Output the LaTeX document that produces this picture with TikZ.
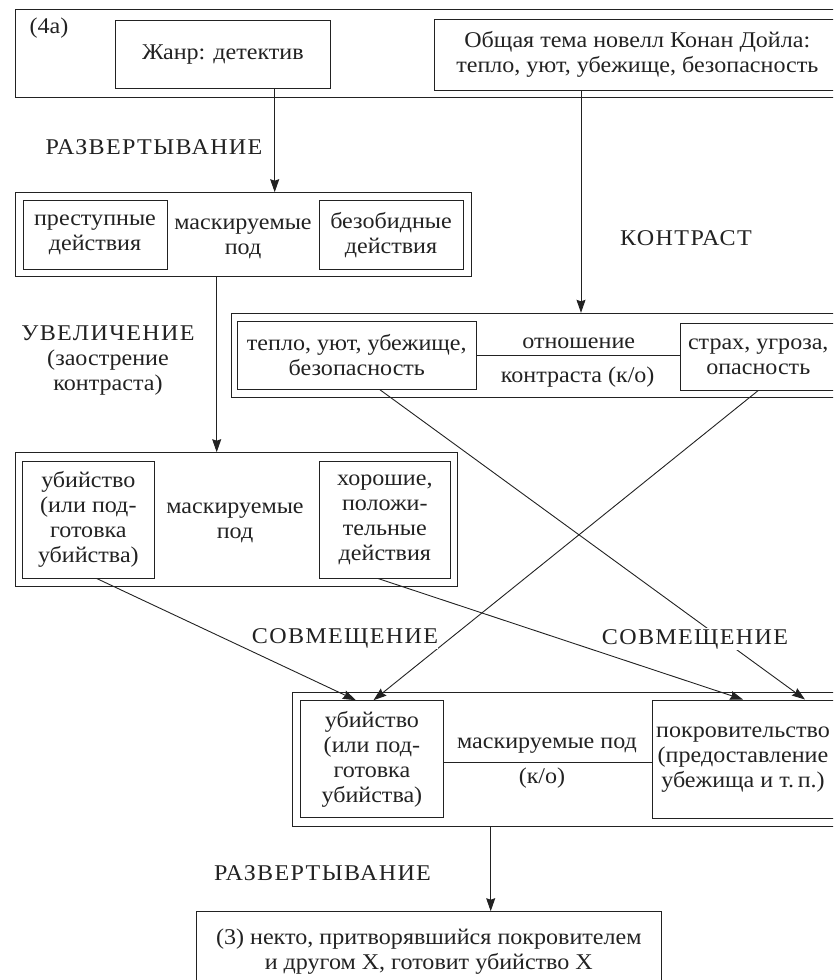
\documentclass[tikz,border=0pt]{standalone}
\usepackage{fontspec}
\setmainfont[FakeStretch=1.07]{Liberation Serif}
\newfontfamily\capsfont[FakeStretch=1.07,LetterSpace=6]{Liberation Serif}
\usetikzlibrary{arrows.meta}
\definecolor{ink}{HTML}{222222}
\begin{document}
\begin{tikzpicture}[x=1pt,y=-1pt,
  every node/.style={font=\fontsize{22.5}{25}\selectfont, text=ink},
  frame/.style={draw=ink, line width=1pt, inner sep=0pt},
  box/.style={draw=ink, line width=1pt, inner sep=0pt, align=center},
  lbl/.style={inner sep=0pt, align=center},
  caps/.style={inner sep=0pt, align=center, font=\fontsize{22.5}{25}\capsfont},
  arr/.style={draw=ink, line width=0.9pt, -{Stealth[length=13pt,width=9pt,inset=1.5pt]}},
  link/.style={draw=ink, line width=0.9pt}]
\useasboundingbox (0,0) rectangle (833,980);
\clip (0,0) rectangle (833,980);

% top row: genre and theme
\node[frame, minimum width=835pt, minimum height=88.4pt] (topframe) at (432.5,53.5) {};
\node[lbl] (tag) at (49,28) {(4а)};
\node[box, minimum width=215.2pt, minimum height=68.3pt] (genre) at (222.9,54.15) {\raisebox{-3pt}{Жанр: детектив}};
\node[box, minimum width=405.4pt, minimum height=71pt] (theme) at (637.3,54.5)
  {\raisebox{-3pt}{\begin{tabular}{@{}c@{}}Общая тема новелл Конан Дойла:\\тепло, уют, убежище, безопасность\end{tabular}}};

\node[caps] (unfoldA) at (154,146.7) {РАЗВЕРТЫВАНИЕ};

% second row
\node[frame, minimum width=456pt, minimum height=84pt] (row2) at (243,234.7) {};
\node[box, minimum width=144pt, minimum height=68.3pt] (crime) at (95,234.85) {преступные\\действия};
\node[lbl] (maskA) at (243,239) {маскируемые\\под};
\node[box, minimum width=144pt, minimum height=68.3pt] (harmless) at (391,234.85) {безобидные\\действия};

\node[caps] (contrast) at (686,238) {КОНТРАСТ};
\node[lbl] (enlarge) at (108,361) {{\capsfont УВЕЛИЧЕНИЕ}\\(заострение\\контраста)};

% contrast row
\node[frame, minimum width=618.3pt, minimum height=84pt] (row3) at (540.85,355.3) {};
\node[box, minimum width=238.4pt, minimum height=67.6pt] (warm) at (356.8,355.5) {тепло, уют, убежище,\\безопасность};
\node[box, minimum width=155.5pt, minimum height=66.7pt] (fear) at (758.25,356.65) {страх, угроза,\\опасность};
\draw[link] (warm.east) -- (warm.east -| fear.west);
\node[lbl] (relA) at (578.7,343.3) {отношение};
\node[lbl] (relB) at (577.7,376.7) {контраста (к/о)};

% third row
\node[frame, minimum width=442pt, minimum height=134pt] (row4) at (236,519.7) {};
\node[box, minimum width=131.3pt, minimum height=116.3pt] (murderA) at (88.35,519.85)
  {убийство\\(или под-\\готовка\\убийства)};
\node[lbl] (maskB) at (235,523) {маскируемые\\под};
\node[box, minimum width=131.7pt, minimum height=116.3pt] (good) at (384.85,519.85)
  {хорошие,\\положи-\\тельные\\действия};

% combined row
\node[frame, minimum width=557.7pt, minimum height=133.3pt] (row5) at (571.15,759.35) {};
\node[box, minimum width=142.8pt, minimum height=116.6pt] (murderB) at (371.9,759)
  {убийство\\(или под-\\готовка\\убийства)};
\node[box, minimum width=182pt, minimum height=118.3pt] (protect) at (743,759.15)
  {покровительство\\(предоставление\\убежища и т.\,п.)};
\draw[link] ([yshift=-3.7pt]murderB.east) -- ([yshift=-3.7pt]murderB.east -| protect.west);
\node[lbl] (maskC) at (547,746) {маскируемые под};
\node[lbl] (maskD) at (542,778) {(к/о)};

\node[caps] (unfoldB) at (322.5,873) {РАЗВЕРТЫВАНИЕ};
\node[box, minimum width=464.3pt, minimum height=79.6pt] (final) at (428.85,951.5)
  {(3) некто, притворявшийся покровителем\\и другом X, готовит убийство X};

% vertical connectors
\draw[arr] ([xshift=51.8pt]genre.south) coordinate (g1) -- (g1 |- row2.north);
\draw[arr] ([xshift=-56.3pt]theme.south) coordinate (t1) -- (t1 |- row3.north);
\draw[arr] ([xshift=-26.3pt]row2.south) coordinate (r2) -- (r2 |- row4.north);
\draw[arr] ([xshift=-80.45pt]row5.south) coordinate (r5) -- (r5 |- final.north);

% crossing connectors
\draw[arr] ([xshift=23.2pt]warm.south) -- ([xshift=62pt]protect.north);
\draw[arr] (fear.south) -- ([xshift=1.6pt]murderB.north);
\draw[arr] ([xshift=8.35pt]murderA.south) -- ([xshift=-16.1pt]murderB.north);
\draw[arr] ([xshift=-6.85pt]good.south) -- (protect.north);

\node[caps, fill=white, inner ysep=1pt] (combA) at (345,638) {СОВМЕЩЕНИЕ};
\node[caps, fill=white, inner ysep=1pt] (combB) at (695,639) {СОВМЕЩЕНИЕ};
\end{tikzpicture}
\end{document}
